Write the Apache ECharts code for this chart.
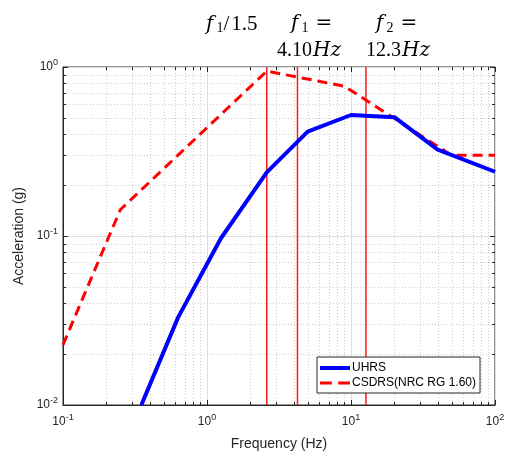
<!DOCTYPE html>
<html><head><meta charset="utf-8">
<script src="https://cdn.jsdelivr.net/npm/echarts@6/dist/echarts.min.js"></script>
<style>html,body{margin:0;padding:0;background:#fff}#c{width:509px;height:456px}</style>
</head><body><div id="c"></div>
<script>
const freqUHRS = [0.35, 0.63, 1.25, 2.6, 5, 10, 20, 40, 100];
const accUHRS = [0.01, 0.033, 0.097, 0.238, 0.415, 0.52, 0.505, 0.324, 0.24];
const freqCSDRS = [0.1, 0.25, 2.6, 9, 50, 100];
const accCSDRS = [0.0227, 0.143, 0.945, 0.77, 0.30, 0.30];
const markerFreqs = [2.6, 4.25, 12.7];
const xTicks = [0.1, 1, 10, 100];
const yTicks = [0.01, 0.1, 1];
const seriesNames = ['UHRS', 'CSDRS(NRC RG 1.60)'];

function minors(decades){const out=[];decades.slice(0,-1).forEach(d=>{for(let k=2;k<=9;k++)out.push(+(d*k).toPrecision(6));});return out;}
const xMinor = minors(xTicks), yMinor = minors(yTicks);

const chart = echarts.init(document.getElementById('c'));
const axCol = '#262626';
const lab = v => '{b|10}{s|' + Math.round(Math.log10(v)) + '}';
const labRich = {b:{fontSize:12,color:axCol,fontFamily:'Liberation Sans, Arial'}, s:{fontSize:9,color:axCol,fontFamily:'Liberation Sans, Arial',padding:[0,0,8,0]}};

function tickRenderer(isX){
  return function(params, api){
    const cs = params.coordSys;
    const v = api.value(isX?0:1);
    const major = api.value(2) === 1;
    const len = major ? 5 : 3;
    const gridStyle = {stroke:'#cfcfcf', lineWidth:1, lineDash:[1,2]};
    const tickStyle = {stroke:axCol, lineWidth:1};
    const children = [];
    if (isX){
      const x = Math.round(api.coord([v, 0.1])[0]) + 0.5;
      if(!major) children.push({type:'line', shape:{x1:x,y1:cs.y,x2:x,y2:cs.y+cs.height}, style:gridStyle});
      children.push({type:'line', shape:{x1:x,y1:cs.y+cs.height,x2:x,y2:cs.y+cs.height-len}, style:tickStyle});
      children.push({type:'line', shape:{x1:x,y1:cs.y,x2:x,y2:cs.y+len}, style:tickStyle});
    } else {
      const y = Math.round(api.coord([1, v])[1]) + 0.5;
      if(!major) children.push({type:'line', shape:{x1:cs.x,y1:y,x2:cs.x+cs.width,y2:y}, style:gridStyle});
      children.push({type:'line', shape:{x1:cs.x,y1:y,x2:cs.x+len,y2:y}, style:tickStyle});
      children.push({type:'line', shape:{x1:cs.x+cs.width,y1:y,x2:cs.x+cs.width-len,y2:y}, style:tickStyle});
    }
    return {type:'group', children};
  };
}

function markerRenderer(params, api){
  const cs = params.coordSys;
  const x = api.coord([api.value(0), 0.1])[0];
  return {type:'rect', shape:{x:x-0.75, y:cs.y, width:1.5, height:cs.height}, style:{fill:'#ff1a1a', stroke:null}};
}

const SERIF = 'Liberation Serif, serif';
const ISERIF = 'DejaVu Serif, serif';
const serifRich = {
  f:{fontFamily:ISERIF, fontStyle:'italic', fontSize:20, color:'#000', padding:[0,3,0,0]},
  s:{fontFamily:SERIF, fontSize:14, color:'#000', padding:[8,7,0,0]},
  s1:{fontFamily:SERIF, fontSize:14, color:'#000', padding:[8,0,0,0]},
  sl:{fontFamily:SERIF, fontSize:21, color:'#000', padding:[0,2,0,0]},
  n:{fontFamily:SERIF, fontSize:21, color:'#000'},
  n2:{fontFamily:SERIF, fontSize:20, color:'#000'},
  eq:{fontFamily:ISERIF, fontSize:20, color:'#000'},
  h:{fontFamily:ISERIF, fontStyle:'italic', fontSize:20, color:'#000', padding:[0,0,0,1]}
};

chart.setOption({
  animation:false,
  backgroundColor:'#fff',
  grid:{left:63, right:14, top:67, bottom:49, show:true, borderColor:axCol, borderWidth:1, backgroundColor:'#fff'},
  xAxis:{type:'log', logBase:10, min:0.1, max:100, name:'Frequency (Hz)', nameLocation:'middle', nameGap:32,
    nameTextStyle:{fontSize:14, color:axCol, fontFamily:'Liberation Sans, Arial'},
    axisLine:{show:true, lineStyle:{color:axCol}}, axisTick:{show:false},
    axisLabel:{formatter:lab, rich:labRich, margin:8},
    splitLine:{show:true, lineStyle:{color:'#dedede', width:1}}},
  yAxis:{type:'log', logBase:10, min:0.01, max:1, name:'Acceleration (g)', nameLocation:'middle', nameGap:36,
    nameTextStyle:{fontSize:14, color:axCol, fontFamily:'Liberation Sans, Arial'},
    axisLine:{show:true, lineStyle:{color:axCol}}, axisTick:{show:false},
    axisLabel:{formatter:lab, rich:labRich, margin:5},
    splitLine:{show:true, lineStyle:{color:'#dedede', width:1}}},
  legend:{data:[{name:seriesNames[0], icon:'rect'}, {name:seriesNames[1], icon:'path://M0,0h11v3h-11zM17,0h11v3h-11z'}],
    orient:'vertical', left:317, top:357, backgroundColor:'#fff', borderColor:axCol, borderWidth:1,
    padding:[5,4,4,3], itemGap:3, itemWidth:30, itemHeight:4,
    textStyle:{fontSize:12, color:'#000', fontFamily:'Liberation Sans, Arial', padding:[0,0,0,-3]}},
  graphic:[
    {type:'text', left:206, top:14, style:{text:'{f|f}{s1|1}{sl|/}{n|1.5}', rich:serifRich}},
    {type:'text', left:291, top:14, style:{text:'{f|f}{s|1}{eq|=}', rich:serifRich}},
    {type:'text', left:376, top:14, style:{text:'{f|f}{s|2}{eq|=}', rich:serifRich}},
    {type:'text', left:277, top:41, style:{text:'{n2|4.10}{h|Hz}', rich:serifRich}},
    {type:'text', left:366, top:41, style:{text:'{n2|12.3}{h|Hz}', rich:serifRich}}
  ],
  series:[
    {type:'custom', silent:true, z:1, renderItem:tickRenderer(true),
      data:xMinor.map(v=>[v,0.1,0]).concat(xTicks.map(v=>[v,0.1,1]))},
    {type:'custom', silent:true, z:1, renderItem:tickRenderer(false),
      data:yMinor.map(v=>[1,v,0]).concat(yTicks.map(v=>[1,v,1]))},
    {type:'custom', silent:true, z:2, renderItem:markerRenderer, data:markerFreqs.map(f=>[f,0.1])},
    {type:'line', name:seriesNames[0], symbol:'none', z:5,
      lineStyle:{color:'#0000ff', width:4}, itemStyle:{color:'#0000ff'},
      data:freqUHRS.map((f,i)=>[f,accUHRS[i]])},
    {type:'line', name:seriesNames[1], symbol:'none', z:4,
      lineStyle:{color:'#ff0000', width:3, type:[10,6]}, itemStyle:{color:'#ff0000'},
      data:freqCSDRS.map((f,i)=>[f,accCSDRS[i]])}
  ]
});
</script></body></html>
